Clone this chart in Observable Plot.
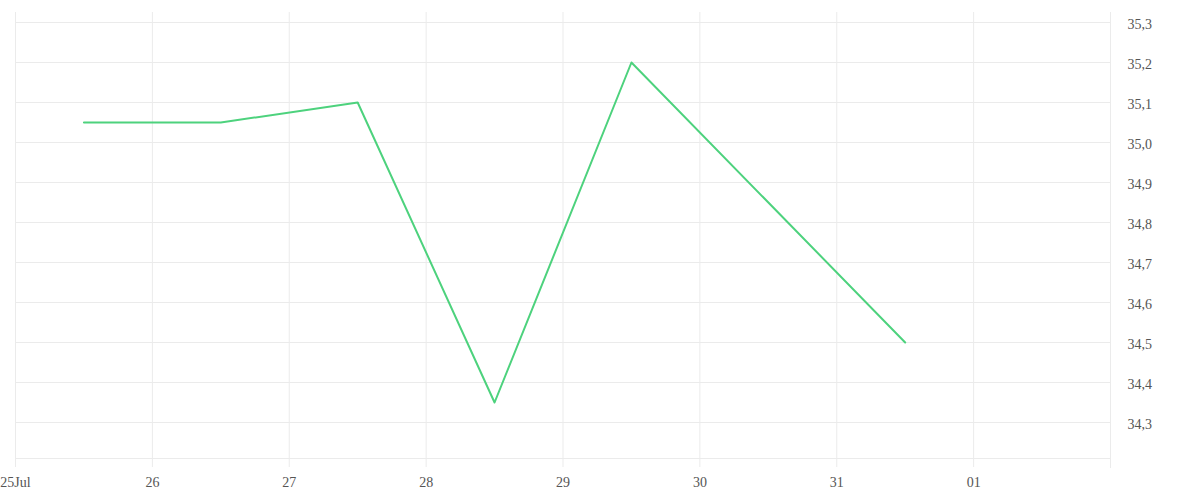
<!DOCTYPE html>
<html>
<head>
<meta charset="utf-8">
<script src="https://cdn.jsdelivr.net/npm/d3@7"></script>
<script src="https://cdn.jsdelivr.net/npm/@observablehq/plot@0.6"></script>
<style>
  html, body { margin: 0; padding: 0; background: #fff; }
  #chart svg { display: block; }
</style>
</head>
<body>
<div id="chart"></div>
<script>
// Data
const dates = ["2024-07-25T12:00Z", "2024-07-26T12:00Z", "2024-07-27T12:00Z", "2024-07-28T12:00Z", "2024-07-29T12:00Z", "2024-07-31T12:00Z"];
const values = [35.05, 35.05, 35.1, 34.35, 35.2, 34.5];
const xTicks = ["2024-07-25", "2024-07-26", "2024-07-27", "2024-07-28", "2024-07-29", "2024-07-30", "2024-07-31", "2024-08-01"];
const xTickLabels = ["25Jul", "26", "27", "28", "29", "30", "31", "01"];
const yTicks = [34.3, 34.4, 34.5, 34.6, 34.7, 34.8, 34.9, 35.0, 35.1, 35.2, 35.3];
const xDomain = ["2024-07-25", "2024-08-02"];
const yDomain = [34.21, 35.325];

const data = dates.map((d, i) => ({date: new Date(d), value: values[i]}));
const xt = xTicks.map(d => new Date(d + "T00:00Z"));
const labelMap = new Map(xt.map((d, i) => [+d, xTickLabels[i]]));
const gridColor = "#ebebeb";

const chart = Plot.plot({
  width: 1200,
  height: 500,
  marginTop: 12,
  marginBottom: 42,
  marginLeft: 15,
  marginRight: 90,
  style: {fontFamily: "'Liberation Serif', serif", fontSize: "14px", color: "#555", background: "#fff"},
  x: {type: "utc", domain: xDomain.map(d => new Date(d + "T00:00Z"))},
  y: {domain: yDomain},
  marks: [
    Plot.gridY(yTicks, {stroke: gridColor, strokeOpacity: 1}),
    Plot.gridX(xt, {stroke: gridColor, strokeOpacity: 1}),
    Plot.ruleY([yDomain[0]], {stroke: gridColor}),
    Plot.ruleX([new Date(xDomain[1] + "T00:00Z")], {stroke: gridColor, y1: yDomain[1], y2: yDomain[0] - 0.025, clip: false}),
    Plot.axisX(xt, {
      tickSize: 9,
      stroke: gridColor,
      strokeOpacity: 1,
      tickPadding: 10,
      fill: "#555",
      tickFormat: d => labelMap.get(+d),
      label: null
    }),
    Plot.axisY(yTicks, {
      anchor: "right",
      tickSize: 0,
      tickPadding: 17,
      textAnchor: "start",
      dy: 2,
      fill: "#555",
      tickFormat: d => d.toFixed(1).replace(".", ","),
      label: null
    }),
    Plot.line(data, {x: "date", y: "value", stroke: "#4dd27d", strokeWidth: 2})
  ]
});
document.getElementById("chart").appendChild(chart);
</script>
</body>
</html>
